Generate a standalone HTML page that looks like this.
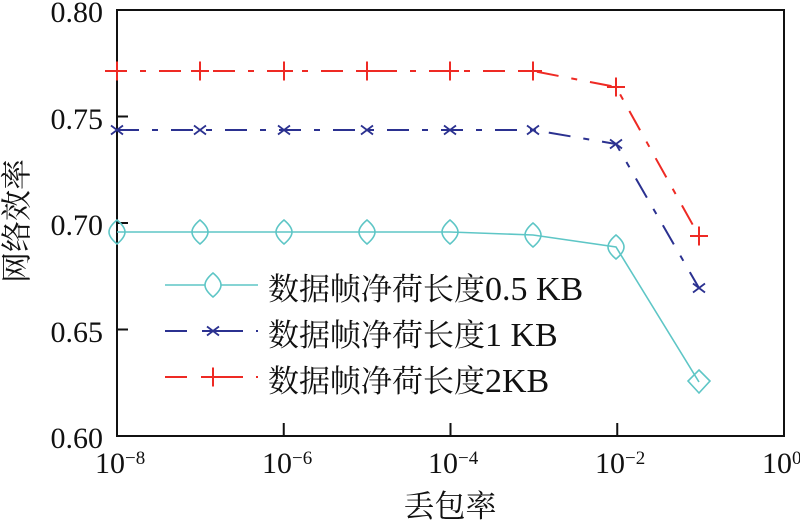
<!DOCTYPE html>
<html>
<head>
<meta charset="utf-8">
<style>
html,body{margin:0;padding:0;background:#fff;}
svg{display:block;}
.t{font-family:"Liberation Serif","Noto Serif CJK SC",serif;fill:#111;}
</style>
</head>
<body>
<svg width="800" height="522" viewBox="0 0 800 522" xmlns="http://www.w3.org/2000/svg">
<defs>
  <g id="xm"><path d="M-6,-4.5 L6,4.5 M-6,4.5 L6,-4.5" stroke="#2b3190" stroke-width="1.8" fill="none"/></g>
  <g id="pm"><path d="M-9,0 L9,0 M0,-9.5 L0,9.5" stroke="#ee2a24" stroke-width="2" fill="none"/></g>
</defs>

<!-- axes box -->
<rect x="117" y="10" width="667" height="426" fill="none" stroke="#111" stroke-width="2"/>
<!-- y ticks -->
<path d="M117,116.5 H128 M117,223 H128 M117,329.5 H128" stroke="#111" stroke-width="2"/>
<!-- x ticks -->
<path d="M283.75,436 V423 M450.5,436 V423 M617.25,436 V423" stroke="#111" stroke-width="2"/>

<!-- y tick labels -->
<g class="t" font-size="30" text-anchor="end">
  <text x="103" y="22">0.80</text>
  <text x="103" y="129">0.75</text>
  <text x="103" y="235">0.70</text>
  <text x="103" y="342">0.65</text>
  <text x="103" y="448">0.60</text>
</g>

<!-- x tick labels -->
<g class="t" font-size="30">
  <text x="95" y="473">10<tspan font-size="19" dy="-9">−8</tspan></text>
  <text x="262" y="473">10<tspan font-size="19" dy="-9">−6</tspan></text>
  <text x="428" y="473">10<tspan font-size="19" dy="-9">−4</tspan></text>
  <text x="595" y="473">10<tspan font-size="19" dy="-9">−2</tspan></text>
  <text x="762" y="473">10<tspan font-size="19" dy="-9">0</tspan></text>
</g>

<!-- axis titles -->
<text class="t" x="450" y="517" font-size="31" text-anchor="middle">丢包率</text>
<text class="t" x="17" y="221" font-size="31" text-anchor="middle" dominant-baseline="central" transform="rotate(-90 17 221)">网络效率</text>

<!-- series: cyan solid -->
<polyline points="117,232 200,232 284,232 367,232 450,232 533,235 616,247 699,382" fill="none" stroke="#5ec6c6" stroke-width="1.6"/>
<g fill="none" stroke="#5ec6c6" stroke-width="1.6">
  <path d="M117,220 C123,225 125,229 125,232 C125,235 123,239 117,244 C111,239 109,235 109,232 C109,229 111,225 117,220 Z"/>
  <path d="M200,220 C206,225 208,229 208,232 C208,235 206,239 200,244 C194,239 192,235 192,232 C192,229 194,225 200,220 Z"/>
  <path d="M284,220 C290,225 292,229 292,232 C292,235 290,239 284,244 C278,239 276,235 276,232 C276,229 278,225 284,220 Z"/>
  <path d="M367,220 C373,225 375,229 375,232 C375,235 373,239 367,244 C361,239 359,235 359,232 C359,229 361,225 367,220 Z"/>
  <path d="M450,220 C456,225 458,229 458,232 C458,235 456,239 450,244 C444,239 442,235 442,232 C442,229 444,225 450,220 Z"/>
  <path d="M533,223 C539,228 541,232 541,235 C541,238 539,242 533,247 C527,242 525,238 525,235 C525,232 527,228 533,223 Z"/>
  <path d="M616,235 C622,240 624,244 624,247 C624,250 622,254 616,259 C610,254 608,250 608,247 C608,244 610,240 616,235 Z"/>
  <path d="M699,370 L710,381 L699,393 L688,381 Z"/>
  <path d="M213,273 C219,278 221,282 221,285 C221,288 219,292 213,297 C207,292 205,288 205,285 C205,282 207,278 213,273 Z"/>
</g>

<!-- series: blue dash-dot -->
<polyline points="117,130 200,130 284,130 367,130 450,130 533,130 616,144 699,288" fill="none" stroke="#2b3190" stroke-width="2" stroke-dasharray="22 13 6 13"/>
<g>
  <use href="#xm" x="117" y="130"/><use href="#xm" x="200" y="130"/><use href="#xm" x="284" y="130"/>
  <use href="#xm" x="367" y="130"/><use href="#xm" x="450" y="130"/><use href="#xm" x="533" y="130"/>
  <use href="#xm" x="616" y="144"/><use href="#xm" x="699" y="288"/>
</g>

<!-- series: red dash-dot -->
<polyline points="105,71 200,71 284,71 367,71 450,71 533,71 616,87 699,236" fill="none" stroke="#ee2a24" stroke-width="2" stroke-dasharray="22 13 6 13"/>
<g>
  <use href="#pm" x="117" y="71"/><use href="#pm" x="200" y="71"/><use href="#pm" x="284" y="71"/>
  <use href="#pm" x="367" y="71"/><use href="#pm" x="450" y="71"/><use href="#pm" x="533" y="71"/>
  <use href="#pm" x="616" y="87"/><use href="#pm" x="699" y="236"/>
</g>

<!-- legend -->
<g>
  <path d="M165,285 H205 M221,285 H258" stroke="#5ec6c6" stroke-width="1.6"/>
  <path d="M165,331 H187 M202,331 H243 M256,331 H258" stroke="#2b3190" stroke-width="2"/>
  <use href="#xm" x="213" y="331"/>
  <path d="M165,377 H187 M201,377 H243 M256,377 H258" stroke="#ee2a24" stroke-width="2"/>
  <use href="#pm" x="213" y="377"/>
</g>
<g class="t" font-size="31">
  <text x="268" y="300">数据帧净荷长度<tspan font-size="34">0.5 KB</tspan></text>
  <text x="268" y="346">数据帧净荷长度<tspan font-size="34">1 KB</tspan></text>
  <text x="268" y="392">数据帧净荷长度<tspan font-size="34">2KB</tspan></text>
</g>
</svg>
</body>
</html>
